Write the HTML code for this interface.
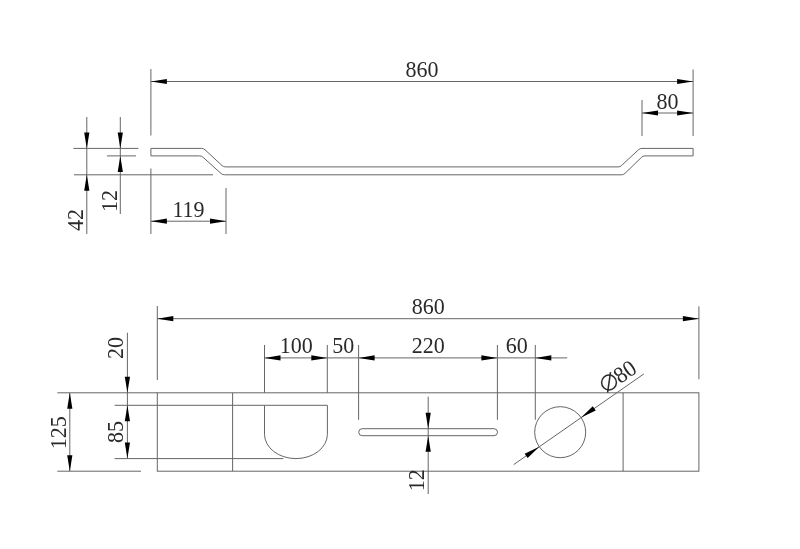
<!DOCTYPE html>
<html><head><meta charset="utf-8"><style>
html,body{margin:0;padding:0;background:#fff;}
svg{display:block;}
text{font-family:"Liberation Serif", serif;fill:#2a2a2a;}
svg{will-change:transform;}
</style></head><body>
<svg width="800" height="549" viewBox="0 0 800 549">
<rect width="800" height="549" fill="#fff"/>
<line x1="150.9" y1="69" x2="150.9" y2="135.5" stroke="#666" stroke-width="1.0"/>
<line x1="693.1" y1="69.5" x2="693.1" y2="136" stroke="#666" stroke-width="1.0"/>
<line x1="150.9" y1="81.5" x2="693.1" y2="81.5" stroke="#666" stroke-width="1.0"/>
<polygon points="150.90,81.50 166.90,78.90 166.90,84.10" fill="#000"/>
<polygon points="693.10,81.50 677.10,84.10 677.10,78.90" fill="#000"/>
<text x="0" y="0" text-anchor="middle" font-size="22" transform="translate(422 76.5) scale(1 1.06)">860</text>
<line x1="642" y1="100" x2="642" y2="136" stroke="#666" stroke-width="1.0"/>
<line x1="642" y1="113" x2="693.1" y2="113" stroke="#666" stroke-width="1.0"/>
<polygon points="642.00,113.00 658.00,110.40 658.00,115.60" fill="#000"/>
<polygon points="693.10,113.00 677.10,115.60 677.10,110.40" fill="#000"/>
<text x="0" y="0" text-anchor="middle" font-size="22" transform="translate(667.5 108.5) scale(1 1.06)">80</text>
<path d="M150.9,148.4 L201.50,148.40 Q203.5,148.4 204.97,149.76 L222.03,165.54 Q223.5,166.9 225.50,166.90 L618.00,166.90 Q620,166.9 621.47,165.54 L638.53,149.76 Q640,148.4 642.00,148.40 L693.1,148.4 L693.1,155.9  L645.00,155.90 Q643,155.9 641.56,157.29 L624.94,173.41 Q623.5,174.8 621.50,174.80 L224.50,174.80 Q222.5,174.8 221.01,173.46 L202.99,157.24 Q201.5,155.9 199.50,155.90 L150.9,155.9 L150.9,148.4" fill="none" stroke="#666" stroke-width="1.0"/>
<line x1="73.4" y1="148.4" x2="138.4" y2="148.4" stroke="#666" stroke-width="1.0"/>
<line x1="107" y1="155.9" x2="136" y2="155.9" stroke="#666" stroke-width="1.0"/>
<line x1="74" y1="174.8" x2="213" y2="174.8" stroke="#666" stroke-width="1.0"/>
<line x1="86.8" y1="117" x2="86.8" y2="234" stroke="#666" stroke-width="1.0"/>
<polygon points="86.80,148.40 84.20,132.40 89.40,132.40" fill="#000"/>
<polygon points="86.80,174.80 89.40,190.80 84.20,190.80" fill="#000"/>
<line x1="120.3" y1="117" x2="120.3" y2="214" stroke="#666" stroke-width="1.0"/>
<polygon points="120.30,148.40 117.70,132.40 122.90,132.40" fill="#000"/>
<polygon points="120.30,155.90 122.90,171.90 117.70,171.90" fill="#000"/>
<text x="0" y="0" text-anchor="middle" font-size="22" transform="translate(82.8 220) rotate(-90) scale(1 1.06)">42</text>
<text x="0" y="0" text-anchor="middle" font-size="22" transform="translate(116.5 201.1) rotate(-90) scale(1 1.06)">12</text>
<line x1="150.9" y1="168.5" x2="150.9" y2="234" stroke="#666" stroke-width="1.0"/>
<line x1="226" y1="188" x2="226" y2="234" stroke="#666" stroke-width="1.0"/>
<line x1="150.9" y1="221.2" x2="226" y2="221.2" stroke="#666" stroke-width="1.0"/>
<polygon points="150.90,221.20 166.90,218.60 166.90,223.80" fill="#000"/>
<polygon points="226.00,221.20 210.00,223.80 210.00,218.60" fill="#000"/>
<text x="0" y="0" text-anchor="middle" font-size="22" transform="translate(188.5 217) scale(1 1.06)">119</text>
<line x1="157.3" y1="306" x2="157.3" y2="380" stroke="#666" stroke-width="1.0"/>
<line x1="698.9" y1="306.4" x2="698.9" y2="379.3" stroke="#666" stroke-width="1.0"/>
<line x1="157.3" y1="318.7" x2="698.9" y2="318.7" stroke="#666" stroke-width="1.0"/>
<polygon points="157.30,318.70 173.30,316.10 173.30,321.30" fill="#000"/>
<polygon points="698.90,318.70 682.90,321.30 682.90,316.10" fill="#000"/>
<text x="0" y="0" text-anchor="middle" font-size="22" transform="translate(428.3 314.3) scale(1 1.06)">860</text>
<rect x="157.3" y="392.8" width="541.5999999999999" height="78.39999999999998" fill="none" stroke="#666" stroke-width="1.0"/>
<line x1="232.6" y1="392.8" x2="232.6" y2="471.2" stroke="#666" stroke-width="1.0"/>
<line x1="623.1" y1="392.8" x2="623.1" y2="471.2" stroke="#666" stroke-width="1.0"/>
<path d="M114.6,405.3 L327.4,405.3 L327.4,434.2 A31.45,24.4 0 0 1 264.5,434.2 L264.5,405.3" fill="none" stroke="#666" stroke-width="1.0"/>
<line x1="114.6" y1="458.6" x2="283.4" y2="458.6" stroke="#666" stroke-width="1.0"/>
<line x1="57.3" y1="392.8" x2="157.3" y2="392.8" stroke="#666" stroke-width="1.0"/>
<line x1="57.3" y1="471.2" x2="141" y2="471.2" stroke="#666" stroke-width="1.0"/>
<line x1="69.8" y1="392.8" x2="69.8" y2="471.2" stroke="#666" stroke-width="1.0"/>
<polygon points="69.80,392.80 72.40,408.80 67.20,408.80" fill="#000"/>
<polygon points="69.80,471.20 67.20,455.20 72.40,455.20" fill="#000"/>
<text x="0" y="0" text-anchor="middle" font-size="22" transform="translate(65.9 432.7) rotate(-90) scale(1 1.06)">125</text>
<line x1="127.4" y1="332.7" x2="127.4" y2="458.6" stroke="#666" stroke-width="1.0"/>
<polygon points="127.40,392.80 124.80,376.80 130.00,376.80" fill="#000"/>
<polygon points="127.40,405.30 130.00,421.30 124.80,421.30" fill="#000"/>
<polygon points="127.40,458.60 124.80,442.60 130.00,442.60" fill="#000"/>
<text x="0" y="0" text-anchor="middle" font-size="22" transform="translate(123.2 348) rotate(-90) scale(1 1.06)">20</text>
<text x="0" y="0" text-anchor="middle" font-size="22" transform="translate(123.2 432) rotate(-90) scale(1 1.06)">85</text>
<line x1="264.5" y1="345" x2="264.5" y2="392.8" stroke="#666" stroke-width="1.0"/>
<line x1="327.3" y1="345" x2="327.3" y2="392.8" stroke="#666" stroke-width="1.0"/>
<line x1="358.6" y1="345" x2="358.6" y2="419.8" stroke="#666" stroke-width="1.0"/>
<line x1="497.4" y1="345" x2="497.4" y2="419.8" stroke="#666" stroke-width="1.0"/>
<line x1="535.3" y1="345" x2="535.3" y2="419.8" stroke="#666" stroke-width="1.0"/>
<line x1="264.5" y1="357.9" x2="567.2" y2="357.9" stroke="#666" stroke-width="1.0"/>
<polygon points="264.50,357.90 280.50,355.30 280.50,360.50" fill="#000"/>
<polygon points="327.30,357.90 311.30,360.50 311.30,355.30" fill="#000"/>
<polygon points="358.60,357.90 374.60,355.30 374.60,360.50" fill="#000"/>
<polygon points="497.40,357.90 481.40,360.50 481.40,355.30" fill="#000"/>
<polygon points="535.30,357.90 551.30,355.30 551.30,360.50" fill="#000"/>
<text x="0" y="0" text-anchor="middle" font-size="22" transform="translate(296.3 353) scale(1 1.06)">100</text>
<text x="0" y="0" text-anchor="middle" font-size="22" transform="translate(343.2 353) scale(1 1.06)">50</text>
<text x="0" y="0" text-anchor="middle" font-size="22" transform="translate(428.2 353) scale(1 1.06)">220</text>
<text x="0" y="0" text-anchor="middle" font-size="22" transform="translate(516.7 353) scale(1 1.06)">60</text>
<rect x="358.7" y="428.7" width="138.8" height="7" rx="3.5" ry="3.5" fill="none" stroke="#666" stroke-width="1.0"/>
<line x1="428.2" y1="396.7" x2="428.2" y2="494" stroke="#666" stroke-width="1.0"/>
<polygon points="428.20,428.70 425.60,412.70 430.80,412.70" fill="#000"/>
<polygon points="428.20,435.70 430.80,451.70 425.60,451.70" fill="#000"/>
<text x="0" y="0" text-anchor="middle" font-size="22" transform="translate(424 480.2) rotate(-90) scale(1 1.06)">12</text>
<circle cx="560.2" cy="432.2" r="25.5" fill="none" stroke="#666" stroke-width="1.0"/>
<line x1="513.7" y1="464.6" x2="643.9" y2="373.9" stroke="#666" stroke-width="1.0"/>
<polygon points="581.12,417.62 592.77,406.35 595.74,410.61" fill="#000"/>
<polygon points="539.28,446.78 527.63,458.05 524.66,453.79" fill="#000"/>
<circle cx="609" cy="382.5" r="7.4" fill="none" stroke="#2a2a2a" stroke-width="1.5"/>
<line x1="607.6" y1="392.7" x2="610.5" y2="372.2" stroke="#2a2a2a" stroke-width="1.5"/>
<text x="0" y="0" text-anchor="start" font-size="22" transform="translate(620.3 384.3) rotate(-34.861863248688664) scale(1 1.06)">80</text>
</svg></body></html>
